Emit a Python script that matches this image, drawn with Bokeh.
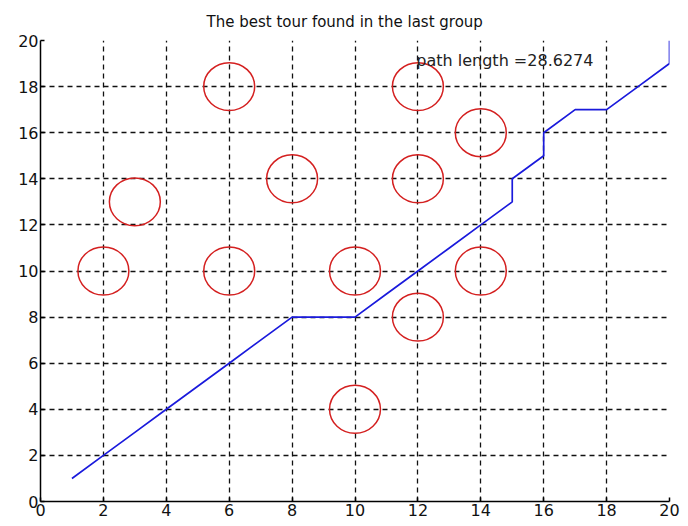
from bokeh.plotting import figure
from bokeh.models import Range1d, FixedTicker, Label
from bokeh.embed import file_html
from bokeh.resources import INLINE

# obstacle centres
obs_x = [6, 12, 14, 8, 12, 3, 2, 6, 10, 14, 12, 10]
obs_y = [18, 18, 16, 14, 14, 13, 10, 10, 10, 10, 8, 4]

# best tour path
path_x = [1, 2, 3, 4, 5, 6, 7, 8, 10, 11, 12, 13, 14, 15, 15, 16, 16, 17, 18, 19, 20, 20]
path_y = [1, 2, 3, 4, 5, 6, 7, 8, 8, 9, 10, 11, 12, 13, 14, 15, 16, 17, 17, 18, 19, 20]

ticks = [0, 2, 4, 6, 8, 10, 12, 14, 16, 18, 20]
title_text = "The best tour found in the last group"
note_text = "path length =28.6274"

FONT = "DejaVu Sans"

p = figure(frame_width=629, frame_height=461, output_backend="svg", toolbar_location=None,
           x_range=Range1d(0, 20), y_range=Range1d(0, 20),
           min_border_left=40, min_border_right=11, min_border_top=40, min_border_bottom=18)

p.title.text = title_text
p.title.align = "left"
p.title.text_font = FONT
p.title.text_font_size = "15px"
p.title.text_font_style = "normal"
p.title.text_color = "#111111"
p.title.offset = 166
p.title.standoff = 19

p.outline_line_color = None
p.background_fill_color = "white"

for ax in (p.xaxis, p.yaxis):
    ax.ticker = FixedTicker(ticks=ticks)
    ax.minor_tick_line_color = None
    ax.major_tick_in = 4
    ax.major_tick_out = 0
    ax.axis_line_color = "black"
    ax.axis_line_width = 1.5
    ax.major_tick_line_color = "black"
    ax.major_tick_line_width = 1.5
    ax.major_label_text_font = FONT
    ax.major_label_text_font_size = "16px"
    ax.major_label_text_color = "#111111"
    ax.major_label_standoff = 2

p.xgrid.ticker = FixedTicker(ticks=ticks)
p.ygrid.ticker = FixedTicker(ticks=ticks)
for g in (p.xgrid, p.ygrid):
    g.grid_line_color = "#111111"
    g.grid_line_dash = "5 4"
    g.grid_line_width = 1.3
    g.grid_line_alpha = 1.0

p.ellipse(x=obs_x, y=obs_y, width=1.62, height=2.08,
          fill_color=None, line_color="#d42020", line_width=1.5)

p.line(path_x, path_y, line_color="#1a1adc", line_width=1.7)

p.add_layout(Label(x=11.95, y=19.13, text=note_text, text_font=FONT,
                   text_font_size="16px", text_color="#222222",
                   text_baseline="middle", text_align="left"))

open("out.html", "w").write(file_html(p, INLINE))
